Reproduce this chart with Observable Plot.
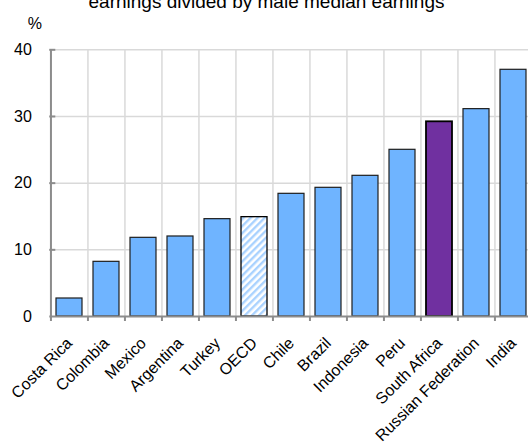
<!DOCTYPE html>
<html>
<head>
<meta charset="utf-8">
<script src="https://cdn.jsdelivr.net/npm/d3@7"></script>
<script src="https://cdn.jsdelivr.net/npm/@observablehq/plot@0.6"></script>
<style>
  html, body { margin: 0; padding: 0; background: #fff; overflow: hidden; }
  #wrap { position: relative; width: 528px; height: 445px; overflow: hidden; }
  #title {
    position: absolute; left: 0; width: 533px; top: -8px;
    text-align: center; white-space: nowrap; color: #000;
    font: 19px Arial, "Liberation Sans", sans-serif; line-height: 19px;
  }
  #chart { position: absolute; left: 0; top: 0; width: 540px; }
  #chart svg { max-width: none !important; }
</style>
</head>
<body>
<div id="wrap">
  <div id="title">earnings divided by male median earnings</div>
  <div id="chart"></div>
</div>
<script>
// Gender gap in median earnings, % of male median earnings
const countries = ["Costa Rica", "Colombia", "Mexico", "Argentina", "Turkey", "OECD",
  "Chile", "Brazil", "Indonesia", "Peru", "South Africa", "Russian Federation", "India"];
const gaps = [2.7, 8.2, 11.8, 12.0, 14.6, 14.9, 18.4, 19.3, 21.1, 25.0, 29.2, 31.1, 37.0];
const averageName = "OECD";
const highlightName = "South Africa";
const yTicks = [0, 10, 20, 30, 40];
const unitLabel = "%";

const rows = countries.map((country, i) => ({country, gap: gaps[i]}));

const W = 540, H = 445;
const ML = 49.3, MR = 8.2, MT = 49.3, MB = 129;
const step = (W - ML - MR) / countries.length;

const font = 'Arial, "Liberation Sans", sans-serif';
const blue = "#6fb4ff";
const purple = "#7030a0";
const grid = "#d9d9d9";
const axisGray = "#8c8c8c";

const chart = Plot.plot({
  width: W, height: H,
  marginLeft: ML, marginRight: MR, marginTop: MT, marginBottom: MB,
  style: {fontFamily: font, fontSize: "15px", color: "#000", background: "transparent", maxWidth: "none"},
  x: {domain: countries, paddingInner: 0.31, paddingOuter: 0.155, label: null},
  y: {domain: [0, 40], label: null},
  marks: [
    // grid: horizontal at y ticks, vertical at category boundaries
    Plot.ruleY(yTicks.filter(d => d > 0), {stroke: grid, strokeWidth: 1.5}),
    Plot.ruleX(countries, {dx: -step / 2, stroke: grid, strokeWidth: 1.5}),
    // bars
    Plot.barY(rows.filter(d => d.country !== averageName && d.country !== highlightName),
      {x: "country", y: "gap", fill: blue, stroke: "#1e1e1e", strokeWidth: 1.2}),
    Plot.barY(rows.filter(d => d.country === averageName),
      {x: "country", y: "gap", fill: "url(#avg-hatch)", stroke: "#000", strokeWidth: 1.3}),
    Plot.barY(rows.filter(d => d.country === highlightName),
      {x: "country", y: "gap", fill: purple, stroke: "#000", strokeWidth: 1.8}),
    // axis lines
    Plot.ruleX([countries[0]], {dx: -step / 2, stroke: axisGray, strokeWidth: 2}),
    Plot.ruleY([0], {stroke: axisGray, strokeWidth: 2}),
    // y axis labels and inward ticks
    Plot.axisY({ticks: yTicks, tickSize: 0, tickPadding: 18, fontSize: 16}),
    Plot.axisY({ticks: yTicks.filter(d => d > 0), tickSize: -6, tickFormat: () => "", stroke: axisGray, strokeWidth: 2}),
    // x axis ticks at category boundaries, and rotated labels
    Plot.axisX({tickSize: 5, tickFormat: () => "", dx: -step / 2, stroke: axisGray, strokeWidth: 2}),
    Plot.axisX({tickSize: 0, tickRotate: -45, tickPadding: 24, fontSize: 16}),
    // unit label
    Plot.text([unitLabel], {frameAnchor: "top-left", dx: -22, dy: -21, lineAnchor: "bottom", fontSize: 16})
  ]
});

// diagonal hatch used for the average bar
d3.select(chart).insert("defs", ":first-child").html(`
  <pattern id="avg-hatch" patternUnits="userSpaceOnUse" width="5" height="5" patternTransform="rotate(45)">
    <rect width="5" height="5" fill="#ffffff"></rect>
    <rect width="2.4" height="5" fill="#a9d2ff"></rect>
  </pattern>`);

document.getElementById("chart").append(chart);
</script>
</body>
</html>
